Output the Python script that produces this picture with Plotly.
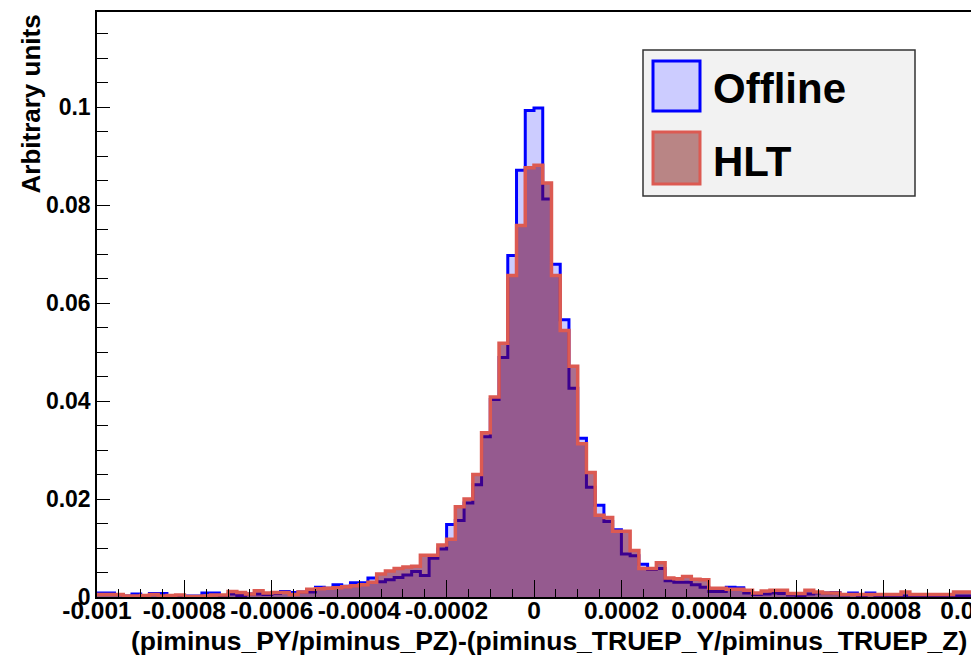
import plotly.graph_objects as go

# ---- data -----------------------------------------------------------
x_min = -0.001
bin_width = 0.00002
n_bins = 100

offline = [
    0.0008, 0.0008, 0.0005, 0.0002, 0.0006, 0.0002, 0.0007, 0.0007, 0.0002, 0.0003,
    0.0002, 0.0002, 0.0008, 0.0008, 0.0002, 0.0006, 0.0003, 0.0006, 0.0006, 0.0005,
    0.0007, 0.0011, 0.0009, 0.0010, 0.0010, 0.0020, 0.0018, 0.0025, 0.0022, 0.0029,
    0.0029, 0.0039, 0.0031, 0.0035, 0.0040, 0.0045, 0.0052, 0.0044, 0.0079, 0.0098,
    0.0148, 0.0156, 0.0192, 0.0229, 0.0327, 0.0403, 0.0489, 0.0697, 0.0871, 0.0993,
    0.0998, 0.0812, 0.0679, 0.0566, 0.0426, 0.0324, 0.0224, 0.0187, 0.0154, 0.0137,
    0.0088, 0.0084, 0.0067, 0.0056, 0.0058, 0.0033, 0.0030, 0.0030, 0.0025, 0.0020,
    0.0011, 0.0011, 0.0020, 0.0019, 0.0008, 0.0005, 0.0006, 0.0008, 0.0007, 0.0004,
    0.0003, 0.0006, 0.0008, 0.0008, 0.0009, 0.0004, 0.0008, 0.0003, 0.0008, 0.0003,
    0.0002, 0.0002, 0.0002, 0.0002, 0.0002, 0.0002, 0.0002, 0.0002, 0.0002, 0.0002,
]

hlt = [
    0.0005, 0.0005, 0.0005, 0.0002, 0.0002, 0.0003, 0.0005, 0.0002, 0.0003, 0.0004,
    0.0001, 0.0001, 0.0002, 0.0004, 0.0004, 0.0011, 0.0009, 0.0006, 0.0013, 0.0008,
    0.0009, 0.0009, 0.0005, 0.0010, 0.0016, 0.0017, 0.0018, 0.0019, 0.0021, 0.0023,
    0.0025, 0.0030, 0.0047, 0.0053, 0.0058, 0.0061, 0.0063, 0.0085, 0.0085, 0.0106,
    0.0118, 0.0184, 0.0200, 0.0250, 0.0335, 0.0408, 0.0518, 0.0656, 0.0758, 0.0876,
    0.0881, 0.0845, 0.0656, 0.0544, 0.0471, 0.0313, 0.0254, 0.0167, 0.0162, 0.0134,
    0.0134, 0.0095, 0.0058, 0.0058, 0.0070, 0.0039, 0.0037, 0.0042, 0.0036, 0.0035,
    0.0018, 0.0018, 0.0016, 0.0016, 0.0014, 0.0008, 0.0012, 0.0014, 0.0014, 0.0007,
    0.0007, 0.0014, 0.0010, 0.0008, 0.0008, 0.0005, 0.0005, 0.0005, 0.0005, 0.0005,
    0.0005, 0.0005, 0.0010, 0.0005, 0.0005, 0.0005, 0.0005, 0.0005, 0.0010, 0.0010,
]

x_tick_vals = [-0.001, -0.0008, -0.0006, -0.0004, -0.0002, 0.0, 0.0002, 0.0004, 0.0006, 0.0008, 0.001]
x_tick_text = ["-0.001", "-0.0008", "-0.0006", "-0.0004", "-0.0002", "0",
               "0.0002", "0.0004", "0.0006", "0.0008", "0.001"]
y_tick_vals = [0, 0.02, 0.04, 0.06, 0.08, 0.1]
y_tick_text = ["0", "0.02", "0.04", "0.06", "0.08", "0.1"]

series_names = ["Offline", "HLT"]
x_title = "(piminus_PY/piminus_PZ)-(piminus_TRUEP_Y/piminus_TRUEP_Z)"
y_title = "Arbitrary units"

# ---- build ----------------------------------------------------------
edges = [x_min + i * bin_width for i in range(n_bins + 1)]

W, H = 971, 658
L, R, T, B = 97, 0, 12, 61
PW, PH = W - L - R, H - T - B

def px(xp):
    return (xp - L) / PW

def py(yp):
    return (H - B - yp) / PH

BLUE = "#0000ff"
BLUE_FILL = "#ccccff"
RED = "#dc5a52"
RED_FILL = "rgba(105,0,55,0.56)"
FONT = "Liberation Sans, Arial, sans-serif"

fig = go.Figure()
fig.add_trace(go.Scatter(
    x=edges, y=offline + [offline[-1]], mode="lines", line_shape="hv",
    line=dict(color=BLUE, width=3), fill="tozeroy", fillcolor=BLUE_FILL,
    name=series_names[0], showlegend=False, hoverinfo="skip"))
fig.add_trace(go.Scatter(
    x=edges, y=hlt + [hlt[-1]], mode="lines", line_shape="hv",
    line=dict(color=RED, width=3.5), fill="tozeroy", fillcolor=RED_FILL,
    name=series_names[1], showlegend=False, hoverinfo="skip"))

fig.update_layout(
    width=W, height=H,
    margin=dict(l=L, r=R, t=T, b=B, pad=0, autoexpand=False),
    paper_bgcolor="white", plot_bgcolor="white",
    font=dict(family=FONT, color="black"),
    showlegend=False,
)
fig.update_xaxes(
    range=[-0.001, 0.001], showgrid=False, zeroline=False, automargin=False,
    showline=True, linecolor="black", linewidth=1.5, mirror=True,
    tickmode="array", tickvals=x_tick_vals, ticktext=x_tick_text,
    ticks="inside", ticklen=17, tickwidth=1.2, tickcolor="black",
    tickangle=0, ticklabelstandoff=-9, ticklabeloverflow="allow",
    tickfont=dict(size=24.5, family=FONT, weight="bold"),
    minor=dict(dtick=0.00005, tick0=-0.001, ticks="inside", ticklen=8,
               tickwidth=1.2, tickcolor="black", showgrid=False),
)
fig.update_yaxes(
    range=[0, PH / 4900], showgrid=False, zeroline=False, automargin=False,
    showline=True, linecolor="black", linewidth=1.5, mirror=True,
    tickmode="array", tickvals=y_tick_vals, ticktext=y_tick_text,
    ticks="inside", ticklen=13, tickwidth=1.2, tickcolor="black",
    tickfont=dict(size=23, family=FONT, weight="bold"),
    minor=dict(dtick=0.005, tick0=0, ticks="inside", ticklen=11,
               tickwidth=1.2, tickcolor="black", showgrid=False),
)

# axis titles
fig.add_annotation(text=x_title, xref="paper", yref="paper",
                   x=px(969), y=py(641), xanchor="right", yanchor="middle",
                   showarrow=False, font=dict(size=26.5, family=FONT, weight="bold"))
fig.add_annotation(text=y_title, xref="paper", yref="paper", textangle=-90,
                   x=px(30), y=py(13), xanchor="center", yanchor="top",
                   showarrow=False, font=dict(size=26, family=FONT, weight="bold"))

# legend (drawn manually to match the large boxed legend)
fig.add_shape(type="rect", xref="paper", yref="paper",
              x0=px(643), x1=px(915), y0=py(50), y1=py(196),
              line=dict(color="#333333", width=1.5), fillcolor="#f2f2f2", layer="above")
fig.add_shape(type="rect", xref="paper", yref="paper",
              x0=px(653), x1=px(700), y0=py(61), y1=py(111),
              line=dict(color=BLUE, width=3), fillcolor=BLUE_FILL, layer="above")
fig.add_shape(type="rect", xref="paper", yref="paper",
              x0=px(653), x1=px(700), y0=py(132), y1=py(184),
              line=dict(color=RED, width=3), fillcolor="#b98585", layer="above")
fig.add_annotation(text=series_names[0], xref="paper", yref="paper",
                   x=px(711), y=py(89), xanchor="left", yanchor="middle",
                   showarrow=False, font=dict(size=42, family=FONT, weight="bold"))
fig.add_annotation(text=series_names[1], xref="paper", yref="paper",
                   x=px(711), y=py(161), xanchor="left", yanchor="middle",
                   showarrow=False, font=dict(size=42, family=FONT, weight="bold"))

fig.write_html("out.html", config={"displayModeBar": False},
               post_script="document.body.style.margin='0';")
